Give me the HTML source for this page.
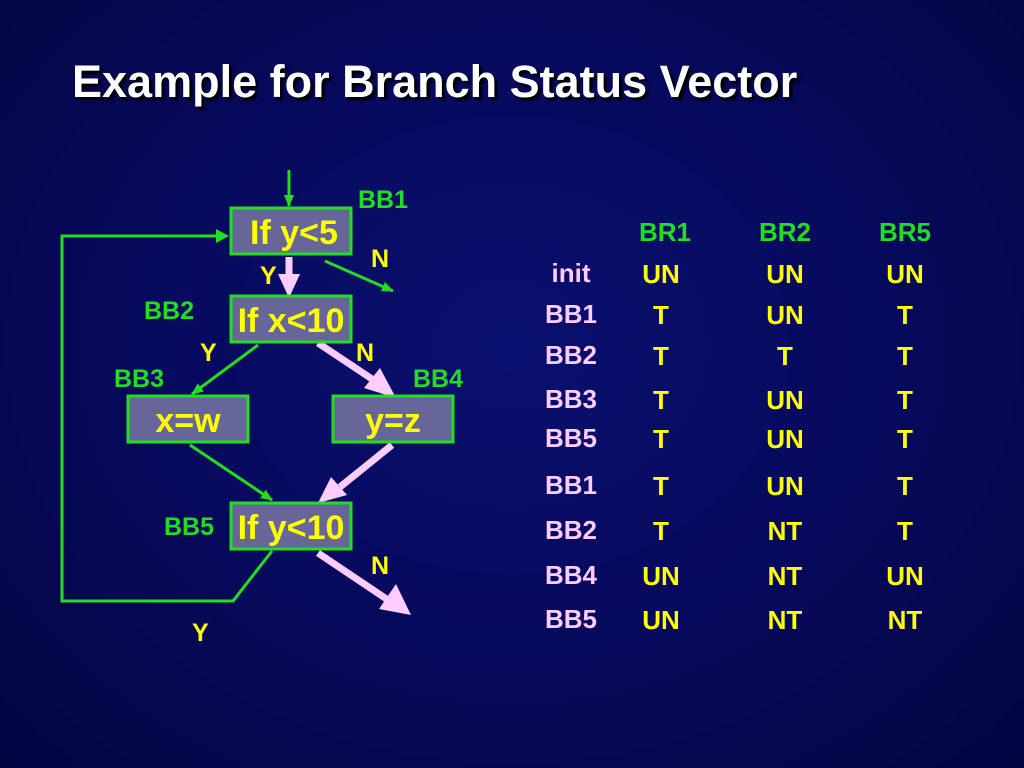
<!DOCTYPE html>
<html><head><style>
body{margin:0;width:1024px;height:768px;overflow:hidden;background:radial-gradient(ellipse at 50% 45%,#0a1070 0%,#06095a 55%,#030640 100%);font-family:"Liberation Sans",Arial,sans-serif;}
.t{position:absolute;white-space:nowrap}
</style></head><body>
<div class="t" style="left:72px;top:56px;font-size:45px;font-weight:bold;color:#fff;text-shadow:3px 3px 2px #000">Example for Branch Status Vector</div>
<svg width="1024" height="768" style="position:absolute;left:0;top:0">
<defs>
<marker id="g" markerWidth="12" markerHeight="12" refX="11" refY="6" orient="auto" markerUnits="userSpaceOnUse"><path d="M0,1 L12,6 L0,11z" fill="#22dd22"/></marker>
</defs>
<g stroke="#22dd22" stroke-width="3" fill="none">
<line x1="289" y1="170" x2="289" y2="206" marker-end="url(#g)"/>
<polyline points="220,236 62,236 62,601 233,601 272,551"/>
<line x1="325" y1="261" x2="393" y2="291" marker-end="url(#g)"/>
<line x1="258" y1="345" x2="192" y2="394" marker-end="url(#g)"/>
<line x1="190" y1="445" x2="272" y2="500" marker-end="url(#g)"/>
</g>
<path d="M216,229 L229,236 L216,243z" fill="#22dd22"/>
<g stroke="#ffccff" stroke-width="7" fill="none">
<line x1="289" y1="257" x2="289" y2="276"/>
<line x1="318" y1="343" x2="372" y2="379"/>
<line x1="392" y1="445" x2="340" y2="487"/>
<line x1="318" y1="553" x2="388" y2="600"/>
</g>
<g fill="#ffccff">
<path d="M278,274 L300,274 L289,298z"/>
<path d="M364,388 L396,398 L380,368z"/>
<path d="M318,503 L331,477 L347,495z"/>
<path d="M379,609 L411,615 L396,584z"/>
</g>
<g fill="#666699" stroke="#22dd22" stroke-width="3">
<rect x="231" y="208" width="120" height="46"/>
<rect x="231" y="296" width="120" height="46"/>
<rect x="128" y="396" width="120" height="46"/>
<rect x="333" y="396" width="120" height="46"/>
<rect x="231" y="503" width="120" height="46"/>
</g>
<g font-family="'Liberation Sans',Arial,sans-serif" font-weight="bold" fill="#ffff00" font-size="34" text-anchor="middle">
<text x="294" y="244">If y&lt;5</text>
<text x="291" y="332">If x&lt;10</text>
<text x="188" y="432">x=w</text>
<text x="393" y="432">y=z</text>
<text x="291" y="539">If y&lt;10</text>
</g>
<g font-family="'Liberation Sans',Arial,sans-serif" font-weight="bold" fill="#ffff00" font-size="25">
<text x="260" y="284">Y</text><text x="371" y="267">N</text>
<text x="200" y="361">Y</text><text x="356" y="361">N</text>
<text x="371" y="574">N</text><text x="192" y="641">Y</text>
</g>
<g font-family="'Liberation Sans',Arial,sans-serif" font-weight="bold" fill="#22dd22" font-size="25">
<text x="358" y="208">BB1</text><text x="144" y="319">BB2</text>
<text x="114" y="387">BB3</text><text x="413" y="387">BB4</text>
<text x="164" y="535">BB5</text>
</g>
<g font-family="'Liberation Sans',Arial,sans-serif" font-weight="bold" fill="#22dd22" font-size="26" text-anchor="middle">
<text x="665" y="241">BR1</text><text x="785" y="241">BR2</text><text x="905" y="241">BR5</text>
</g>
<g font-family="'Liberation Sans',Arial,sans-serif" font-weight="bold" fill="#ffccff" font-size="26" text-anchor="middle">
<text x="571" y="282">init</text><text x="571" y="323">BB1</text><text x="571" y="364">BB2</text>
<text x="571" y="408">BB3</text><text x="571" y="447">BB5</text><text x="571" y="494">BB1</text>
<text x="571" y="539">BB2</text><text x="571" y="584">BB4</text><text x="571" y="628">BB5</text>
</g>
<g font-family="'Liberation Sans',Arial,sans-serif" font-weight="bold" fill="#ffff00" font-size="26" text-anchor="middle">
<text x="661" y="283">UN</text><text x="785" y="283">UN</text><text x="905" y="283">UN</text>
<text x="661" y="324">T</text><text x="785" y="324">UN</text><text x="905" y="324">T</text>
<text x="661" y="365">T</text><text x="785" y="365">T</text><text x="905" y="365">T</text>
<text x="661" y="409">T</text><text x="785" y="409">UN</text><text x="905" y="409">T</text>
<text x="661" y="448">T</text><text x="785" y="448">UN</text><text x="905" y="448">T</text>
<text x="661" y="495">T</text><text x="785" y="495">UN</text><text x="905" y="495">T</text>
<text x="661" y="540">T</text><text x="785" y="540">NT</text><text x="905" y="540">T</text>
<text x="661" y="585">UN</text><text x="785" y="585">NT</text><text x="905" y="585">UN</text>
<text x="661" y="629">UN</text><text x="785" y="629">NT</text><text x="905" y="629">NT</text>
</g>
</svg>
</body></html>
